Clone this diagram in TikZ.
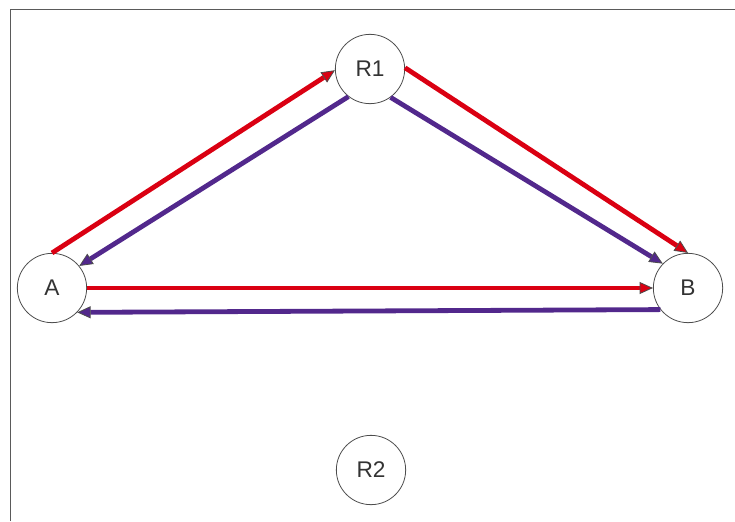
\documentclass[tikz,border=0pt]{standalone}
\usepackage{fontspec}
\setmainfont{Liberation Sans}
\usepackage{xcolor}
\usepackage{tikz}
\usetikzlibrary{arrows.meta,positioning}
\definecolor{flowred}{HTML}{DA0012}
\definecolor{flowpurple}{HTML}{52288C}
\definecolor{framegray}{HTML}{5A5A5A}

\begin{document}
\begin{tikzpicture}[x=0.75pt,y=-0.75pt,
  router/.style={circle, draw=black!70, line width=0.6pt, fill=white, minimum size=52pt, inner sep=0pt, font=\fontsize{17}{19}\selectfont\color{black!80}},
  redflow/.style={flowred, line width=3.6pt, -{Triangle[length=10pt,width=9pt,fill=flowred,color=black!70,line width=0.6pt]}},
  blueflow/.style={flowpurple, line width=3.6pt, -{Triangle[length=10pt,width=9pt,fill=flowpurple,color=black!70,line width=0.6pt]}}]
\useasboundingbox (0,0) rectangle (735,521);
\draw[framegray, line width=1.3pt] (10.5,521) -- (10.5,9.5) -- (735,9.5);
\node[router] (A) at (52,288) {A};
\node[router] (B) at (688,288) {B};
\node[router] (R1) at (370,69) {R1};
\node[router] (R2) at (371,470) {R2};
\draw[redflow] (A.north) -- (R1.182);
\draw[blueflow] (R1.232) -- (A.39);
\draw[redflow] (R1.2) -- (B.north);
\draw[blueflow] (R1.306) -- (B.136);
\draw[redflow] (A.east) -- (B.west);
\draw[blueflow] (B.218) -- (A.316);
\end{tikzpicture}
\end{document}
